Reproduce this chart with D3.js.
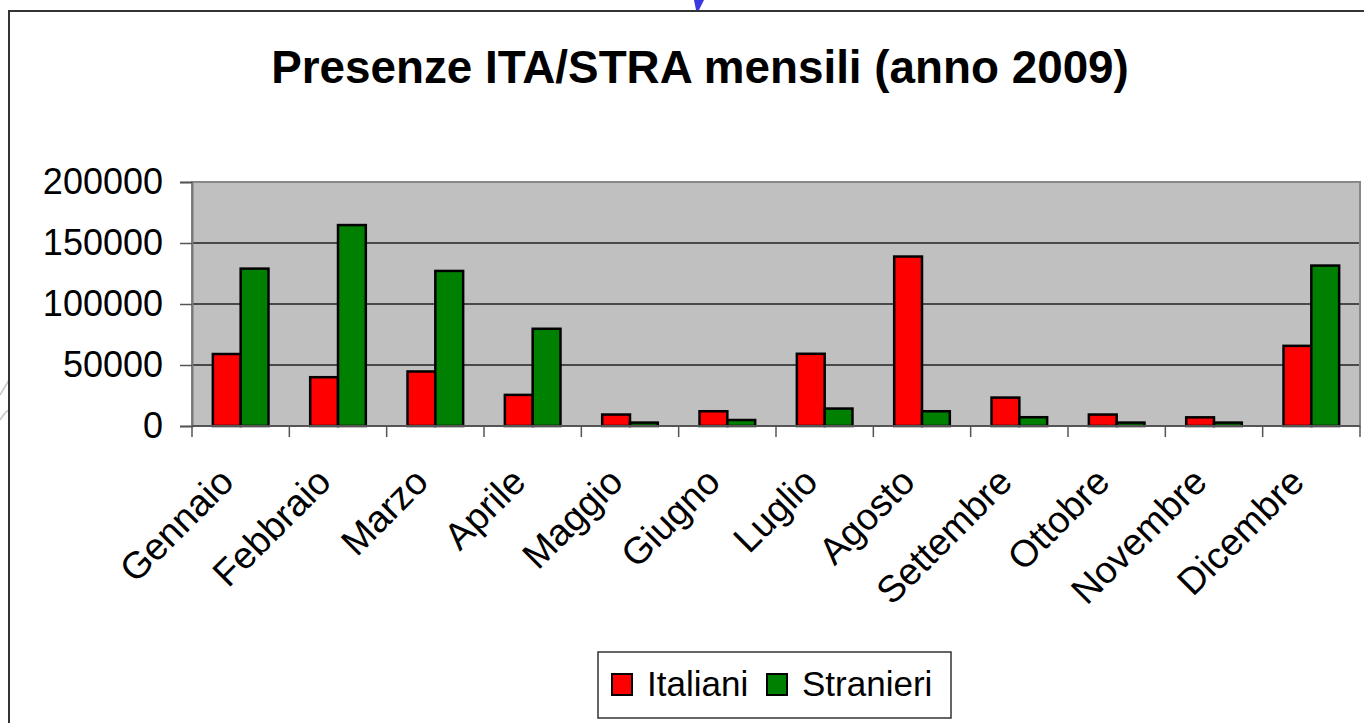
<!DOCTYPE html>
<html>
<head>
<meta charset="utf-8">
<script src="https://cdn.jsdelivr.net/npm/d3@7"></script>
<style>
  body { margin: 0; background: #fff; }
  svg { display: block; font-family: "Liberation Sans", Arial, sans-serif; }
</style>
</head>
<body>
<div class="chart"></div>
<script>
// data
var months = ["Gennaio", "Febbraio", "Marzo", "Aprile", "Maggio", "Giugno",
              "Luglio", "Agosto", "Settembre", "Ottobre", "Novembre", "Dicembre"];
var series = ["Italiani", "Stranieri"];
var italiani = [59000, 40000, 44700, 25500, 9400, 12100, 59200, 138900, 23300, 9400, 7100, 65700];
var stranieri = [129000, 164700, 127100, 79700, 2800, 4900, 14300, 12100, 7200, 2800, 2800, 131500];
var yTicks = [0, 50000, 100000, 150000, 200000];
var colors = ["#ff0000", "#008000"];

var svgWidth = 1364, svgHeight = 723;
var margin = { top: 182, right: 4, bottom: 297, left: 192 };
var width = svgWidth - margin.left - margin.right;
var height = svgHeight - margin.top - margin.bottom;

var svg = d3.select(".chart").append("svg")
    .attr("width", svgWidth)
    .attr("height", svgHeight);

// faint watermark bits outside the frame
svg.append("path")
    .attr("d", "M694,0 L704,0 L699,10 L696,10 Z")
    .attr("fill", "#3a3ae0");
svg.append("path")
    .attr("d", "M0,395 Q6,385 9,380 M0,420 Q5,412 9,410")
    .attr("fill", "none").attr("stroke", "#c8c8c8").attr("stroke-width", 1.5);

// outer chart frame (runs off the page at right and bottom)
svg.append("rect")
    .attr("x", 9).attr("y", 11)
    .attr("width", 1400).attr("height", 800)
    .attr("fill", "#fff")
    .attr("stroke", "#333").attr("stroke-width", 2);

svg.append("text")
    .attr("x", 700).attr("y", 83)
    .attr("text-anchor", "middle")
    .attr("font-size", 45.8).attr("font-weight", "bold")
    .text("Presenze ITA/STRA mensili (anno 2009)");

var chartGroup = svg.append("g")
    .attr("transform", `translate(${margin.left}, ${margin.top})`);

var x0 = d3.scaleBand().domain(months).range([0, width]).paddingInner(0.4286).paddingOuter(0.2143);
var x1 = d3.scaleBand().domain(series).range([0, x0.bandwidth()]);
var band = d3.scaleBand().domain(months).range([0, width]);
var y = d3.scaleLinear().domain([0, 200000]).range([height, 0]);

chartGroup.append("rect")
    .attr("width", width).attr("height", height)
    .attr("fill", "#c0c0c0");

// gridlines
chartGroup.selectAll(".grid")
    .data(yTicks.slice(1, -1))
    .enter().append("line")
    .attr("x1", 0).attr("x2", width)
    .attr("y1", d => y(d)).attr("y2", d => y(d))
    .attr("stroke", "#222").attr("stroke-width", 1.3);

chartGroup.append("rect")
    .attr("width", width).attr("height", height)
    .attr("fill", "none")
    .attr("stroke", "#888").attr("stroke-width", 2);

var rows = months.map((m, i) => ({ month: m, values: [italiani[i], stranieri[i]] }));

var groups = chartGroup.selectAll(".grp")
    .data(rows).enter().append("g")
    .attr("transform", d => `translate(${x0(d.month)},0)`);

groups.selectAll("rect")
    .data(d => d.values.map((v, j) => ({ key: series[j], value: v, c: colors[j] })))
    .enter().append("rect")
    .attr("x", d => x1(d.key))
    .attr("y", d => y(d.value))
    .attr("width", x1.bandwidth())
    .attr("height", d => height - y(d.value))
    .attr("fill", d => d.c)
    .attr("stroke", "#000").attr("stroke-width", 2.5);

// y axis
var yAxis = d3.axisLeft(y).tickValues(yTicks).tickSize(12).tickPadding(17).tickFormat(d3.format("d"));
var yG = chartGroup.append("g").call(yAxis);
yG.select(".domain").attr("stroke", "#777").attr("stroke-width", 2);
yG.selectAll(".tick line").attr("stroke", "#555").attr("stroke-width", 1.5);
yG.selectAll(".tick text").attr("font-size", 36).attr("fill", "#000")
    .attr("font-family", "'Liberation Sans', Arial, sans-serif");

// x axis: tick marks at band boundaries
var bounds = d3.range(months.length + 1).map(i => i * band.step());
chartGroup.append("line")
    .attr("x1", 0).attr("x2", width).attr("y1", height).attr("y2", height)
    .attr("stroke", "#555").attr("stroke-width", 2);
chartGroup.selectAll(".xt")
    .data(bounds).enter().append("line")
    .attr("x1", d => d).attr("x2", d => d)
    .attr("y1", height).attr("y2", height + 11)
    .attr("stroke", "#555").attr("stroke-width", 1.5);

chartGroup.selectAll(".xl")
    .data(months).enter().append("text")
    .attr("transform", d => `translate(${band(d) + band.bandwidth() / 2 - 5},${height + 58}) rotate(-45)`)
    .attr("text-anchor", "end")
    .attr("font-size", 37.5)
    .text(d => d);

// legend
var legend = svg.append("g").attr("transform", "translate(598,652)");
legend.append("rect")
    .attr("width", 353).attr("height", 66)
    .attr("fill", "#fff").attr("stroke", "#333").attr("stroke-width", 1.5);
var legX = [14, 169];
series.forEach(function(s, i) {
    legend.append("rect")
        .attr("x", legX[i]).attr("y", 22).attr("width", 20).attr("height", 21)
        .attr("fill", colors[i]).attr("stroke", "#000").attr("stroke-width", 2);
    legend.append("text")
        .attr("x", legX[i] + 35).attr("y", 44)
        .attr("font-size", 35)
        .text(s);
});
</script>
</body>
</html>
